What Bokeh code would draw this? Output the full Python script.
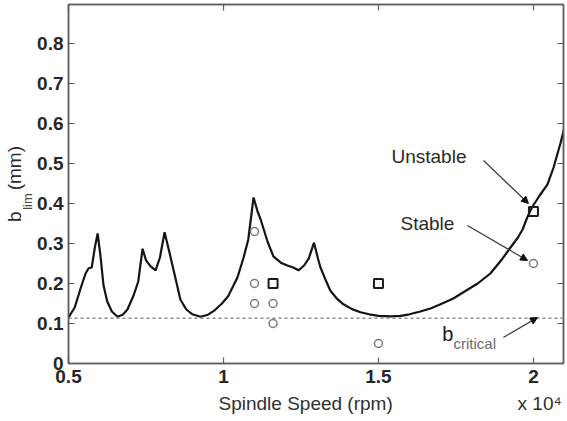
import math
from bokeh.plotting import figure
from bokeh.models import (Range1d, FixedTicker, LinearAxis, Label, Arrow,
                          NormalHead, Span)
from bokeh.embed import file_html
from bokeh.resources import INLINE

# ---------------- data ----------------
speed = [0.500, 0.520, 0.540, 0.555, 0.565, 0.575, 0.585, 0.594, 0.603, 0.613,
         0.625, 0.640, 0.658, 0.675, 0.690, 0.710, 0.725, 0.739, 0.750, 0.765,
         0.781, 0.795, 0.810, 0.825, 0.840, 0.861, 0.880, 0.900, 0.926, 0.950,
         0.970, 0.995, 1.015, 1.045, 1.065, 1.080, 1.097, 1.110, 1.120, 1.142,
         1.161, 1.185, 1.206, 1.225, 1.242, 1.260, 1.275, 1.292, 1.305, 1.313,
         1.330, 1.345, 1.365, 1.387, 1.415, 1.442, 1.470, 1.500, 1.540, 1.571,
         1.600, 1.635, 1.670, 1.700, 1.740, 1.774, 1.820, 1.861, 1.900, 1.926,
         1.950, 1.965, 1.980, 1.995, 2.020, 2.045, 2.065, 2.087, 2.100]
b_lim = [0.115, 0.140, 0.190, 0.225, 0.238, 0.240, 0.290, 0.325, 0.270, 0.195,
         0.155, 0.130, 0.117, 0.122, 0.135, 0.170, 0.205, 0.287, 0.258, 0.243,
         0.233, 0.265, 0.328, 0.280, 0.230, 0.160, 0.135, 0.123, 0.117, 0.122,
         0.132, 0.150, 0.168, 0.215, 0.265, 0.310, 0.415, 0.380, 0.360, 0.305,
         0.268, 0.252, 0.245, 0.240, 0.233, 0.245, 0.262, 0.302, 0.262, 0.240,
         0.208, 0.182, 0.163, 0.148, 0.136, 0.128, 0.123, 0.119, 0.118, 0.119,
         0.123, 0.130, 0.138, 0.148, 0.162, 0.178, 0.200, 0.225, 0.262, 0.290,
         0.315, 0.335, 0.365, 0.390, 0.420, 0.447, 0.490, 0.550, 0.590]

stable_x = [1.10, 1.10, 1.10, 1.16, 1.16, 1.50, 2.00]
stable_y = [0.33, 0.20, 0.15, 0.15, 0.10, 0.05, 0.25]
unstable_x = [1.16, 1.50, 2.00]
unstable_y = [0.20, 0.20, 0.38]
b_critical = 0.113

x_ticks = [0.5, 1.0, 1.5, 2.0]
x_tick_labels = ["0.5", "1", "1.5", "2"]
y_ticks = [0.0, 0.1, 0.2, 0.3, 0.4, 0.5, 0.6, 0.7, 0.8]
y_tick_labels = ["0", "0.1", "0.2", "0.3", "0.4", "0.5", "0.6", "0.7", "0.8"]

x_title = "Spindle Speed (rpm)"
x_scale_note = "x 10\u2074"
y_title = "b\u00a0\u00a0\u00a0\u00a0(mm)"   # room left for the subscript
y_title_sub = "lim"

X0, X1 = 0.5, 2.097
Y0, Y1 = 0.0, 0.8975

FONT = "Liberation Sans"

# ---------------- figure ----------------
p = figure(frame_width=495, frame_height=359,
           x_range=Range1d(X0, X1), y_range=Range1d(Y0, Y1),
           output_backend="svg", toolbar_location=None,
           min_border_left=68, min_border_right=4, min_border_top=4,
           min_border_bottom=58, x_axis_type=None, y_axis_type=None)
p.grid.visible = False
p.background_fill_color = "white"
p.border_fill_color = "white"
p.outline_line_color = "#6a6a6a"
p.outline_line_width = 1.5


def base_axis(ax):
    ax.major_tick_in = 6
    ax.major_tick_out = 0
    ax.minor_tick_in = 0
    ax.minor_tick_out = 0
    ax.axis_line_color = "#5e5e5e"
    ax.axis_line_width = 1.5
    ax.major_tick_line_color = "#5e5e5e"
    ax.major_tick_line_width = 1.2
    ax.major_label_text_font = FONT
    ax.major_label_text_font_size = "19px"
    ax.major_label_text_color = "#262626"


def label_axis(ax):
    # an axis that only carries title texts (no line, no ticks)
    ax.axis_line_color = None
    ax.major_tick_line_color = None
    ax.minor_tick_line_color = None
    ax.major_tick_in = 0
    ax.major_tick_out = 0
    ax.minor_tick_in = 0
    ax.minor_tick_out = 0
    ax.major_label_text_font = FONT
    ax.major_label_text_color = "#303030"


# main bottom axis
xb = LinearAxis(ticker=FixedTicker(ticks=x_ticks),
                major_label_overrides=dict(zip(x_ticks, x_tick_labels)))
base_axis(xb)
xb.major_label_text_font_style = "bold"
xb.major_label_standoff = 6
p.add_layout(xb, "below")

# bottom title row: axis title + scale note
xt_pos = [1.265, 2.020]
xb2 = LinearAxis(ticker=FixedTicker(ticks=xt_pos),
                 major_label_overrides=dict(zip(xt_pos, [x_title, x_scale_note])))
label_axis(xb2)
xb2.major_label_text_font_size = "19px"
xb2.major_label_standoff = 7
p.add_layout(xb2, "below")

# main left axis
yl = LinearAxis(ticker=FixedTicker(ticks=y_ticks),
                major_label_overrides=dict(zip(y_ticks, y_tick_labels)))
base_axis(yl)
yl.major_label_text_font_style = "bold"
yl.major_label_standoff = 5
p.add_layout(yl, "left")

# y title: subscript as a tick text, main text as the axis title
ysub_pos = [0.405]
yl2 = LinearAxis(ticker=FixedTicker(ticks=ysub_pos),
                 major_label_overrides=dict(zip(ysub_pos, [y_title_sub])),
                 major_label_orientation="vertical",
                 axis_label=y_title)
label_axis(yl2)
yl2.major_label_text_font_size = "13px"
yl2.major_label_text_color = "#4a4a4a"
yl2.major_label_standoff = 0
yl2.axis_label_text_font = FONT
yl2.axis_label_text_font_size = "19px"
yl2.axis_label_text_font_style = "normal"
yl2.axis_label_text_color = "#2a2a2a"
yl2.axis_label_standoff = -8
p.add_layout(yl2, "left")

# top and right axes: ticks only
for place, ticks in (("above", x_ticks), ("right", y_ticks)):
    ax = LinearAxis(ticker=FixedTicker(ticks=ticks),
                    major_label_overrides={t: "" for t in ticks})
    base_axis(ax)
    ax.major_label_text_font_size = "1px"
    ax.major_label_standoff = 0
    p.add_layout(ax, place)

# ---------------- data marks ----------------
p.add_layout(Span(location=b_critical, dimension="width", line_color="#8c8c8c",
                  line_dash="3 3", line_width=1.5))
p.line(speed, b_lim, line_color="#141414", line_width=2.2)
p.scatter(stable_x, stable_y, marker="circle", size=8, fill_color=None,
          line_color="#7a7a7a", line_width=1.5)
p.scatter(unstable_x, unstable_y, marker="square", size=9, fill_color=None,
          line_color="#1a1a1a", line_width=2)

# ---------------- annotations ----------------
def lab(x, y, text, size="19px", color="#2a2a2a"):
    p.add_layout(Label(x=x, y=y, text=text, text_font=FONT,
                       text_font_size=size, text_color=color,
                       text_align="left", text_baseline="middle"))

lab(1.542, 0.5175, "Unstable")
lab(1.571, 0.350, "Stable")
lab(1.706, 0.074, "b", size="20px", color="#1a1a1a")
lab(1.742, 0.050, "critical", size="15px", color="#6a6a6a")


def arrow(xs, ys, xe, ye):
    p.add_layout(Arrow(end=NormalHead(size=7, fill_color="#111111",
                                      line_color="#111111"),
                       x_start=xs, y_start=ys, x_end=xe, y_end=ye,
                       line_color="#3a3a3a", line_width=1.2))

arrow(1.839, 0.5075, 1.984, 0.400)
arrow(1.787, 0.345, 1.981, 0.2575)
arrow(1.903, 0.065, 2.013, 0.115)

open("out.html", "w").write(file_html(p, INLINE))
